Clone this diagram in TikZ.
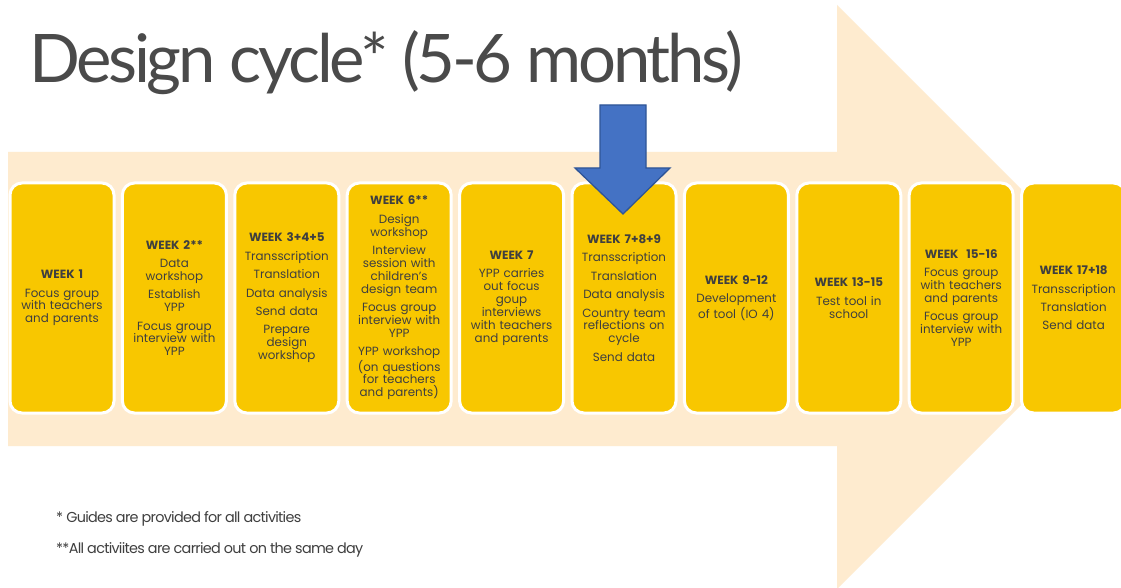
\documentclass[tikz,border=0pt]{standalone}
\usepackage{fontspec}
\setmainfont{Poppins}
\newfontfamily\notefont{Poppins}[LetterSpace=-5]
\newfontfamily\titlefont{Lato}[LetterSpace=-5]
\definecolor{beige}{HTML}{FEEBCF}
\definecolor{boxyellow}{HTML}{F8C700}
\definecolor{txt}{HTML}{3F3F3F}
\definecolor{titletxt}{HTML}{4A4A4A}
\definecolor{bluefill}{HTML}{4472C4}
\definecolor{blueline}{HTML}{2F5597}
\tikzset{
  weekbox/.style={rectangle, rounded corners=12pt, fill=boxyellow, draw=white,
    line width=3pt, minimum width=104pt, minimum height=230pt, inner sep=0pt,
    text width=102pt, align=center, text=txt,
    font=\fontsize{11.9}{12.9}\selectfont},
  notetext/.style={anchor=base west, inner sep=0pt, text=txt,
    font=\notefont\fontsize{14.4}{16}\selectfont}
}
\newcommand{\gp}{\\[5.5pt]}
\begin{document}
\begin{tikzpicture}[x=1pt,y=-1pt]
\useasboundingbox (0,0) rectangle (1121,588);
\fill[white] (0,0) rectangle (1121,588);
% big background arrow
\fill[beige] (8,152) -- (837,152) -- (837,5) -- (1129,297) -- (837,589) -- (837,446) -- (8,446) -- cycle;
% title
\node[anchor=base west, inner sep=0pt, text=titletxt, font=\titlefont\fontsize{67}{70}\selectfont] (title) at (29,83) {Design cycle* (5-6 months)};
% boxes
\node[weekbox] (b1) at (62,298) {\textbf{WEEK 1}\gp Focus group\\with teachers\\and parents};
\node[weekbox] (b2) at (174.4,298) {\textbf{WEEK 2**}\gp Data\\workshop\gp Establish\\YPP\gp Focus group\\interview with\\YPP};
\node[weekbox] (b3) at (286.8,298) {\textbf{WEEK 3+4+5}\gp Transscription\gp Translation\gp Data analysis\gp Send data\gp Prepare\\design\\workshop};
\node[weekbox] (b4) at (399.2,298) {\textbf{WEEK 6**}\gp Design\\workshop\gp Interview\\session with\\children’s\\design team\gp Focus group\\interview with\\YPP\gp YPP workshop\\(on questions\\for teachers\\and parents)};
\node[weekbox] (b5) at (511.6,298) {\textbf{WEEK 7}\gp YPP carries\\out focus\\goup\\interviews\\with teachers\\and parents};
\node[weekbox] (b6) at (624,298) {\textbf{WEEK 7+8+9}\gp Transscription\gp Translation\gp Data analysis\gp Country team\\reflections on\\cycle\gp Send data};
\node[weekbox] (b7) at (736.4,298) {\textbf{WEEK 9-12}\gp Development\\of tool (IO 4)};
\node[weekbox] (b8) at (848.8,298) {\textbf{WEEK 13-15}\gp Test tool in\\school};
\node[weekbox] (b9) at (961.2,298) {\textbf{WEEK\ \ 15-16}\gp Focus group\\with teachers\\and parents\gp Focus group\\interview with\\YPP};
\node[weekbox] (b10) at (1073.6,298) {\textbf{WEEK 17+18}\gp Transscription\gp Translation\gp Send data};
% blue arrow
\draw[fill=bluefill, draw=blueline, line width=1.3pt, line join=miter]
  (600,105) -- (646,105) -- (646,168) -- (670,168) -- (623,214) -- (575,168) -- (600,168) -- cycle;
% notes
\node[notetext] (n1) at (56,522) {* Guides are provided for all activities};
\node[notetext] (n2) at (56,553) {**All activiites are carried out on the same day};
\end{tikzpicture}
\end{document}
